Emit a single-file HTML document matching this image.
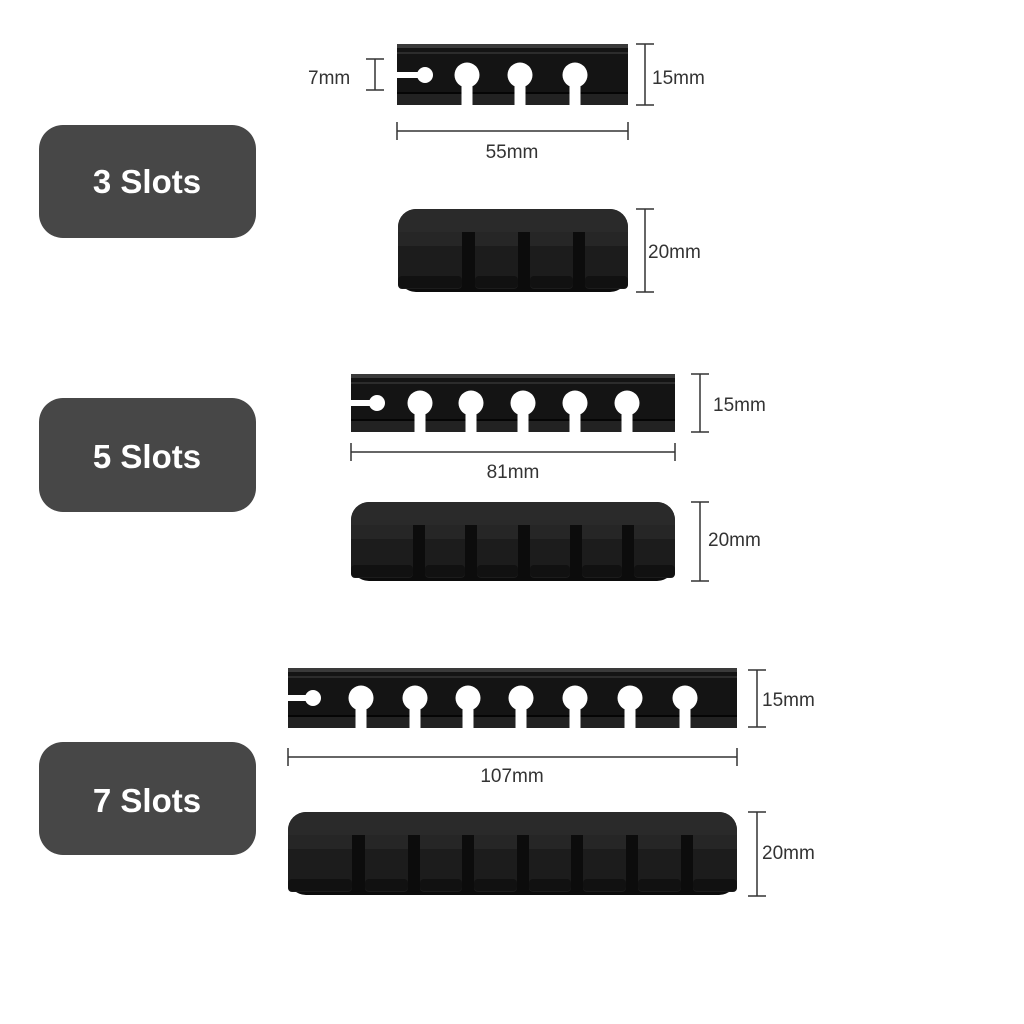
<!DOCTYPE html>
<html><head><meta charset="utf-8"><style>
html,body{margin:0;padding:0;background:#fff;width:1024px;height:1024px;overflow:hidden}
svg{display:block}
.t{font-family:"Liberation Sans",sans-serif;font-size:19px;fill:#333}
.l{font-family:"Liberation Sans",sans-serif;font-size:33px;font-weight:bold;fill:#fff}
.d{stroke:#333;stroke-width:1.5;fill:none}
.s1{fill:#1c1c1c}.s2{fill:#262626}.s3{fill:#111}
</style></head><body>
<svg width="1024" height="1024" viewBox="0 0 1024 1024" xmlns="http://www.w3.org/2000/svg">
<rect x="39" y="125" width="217" height="113" rx="24" fill="#474747"/>
<text class="l" x="147" y="193" text-anchor="middle">3 Slots</text>
<rect x="39" y="398" width="217" height="114" rx="24" fill="#474747"/>
<text class="l" x="147" y="468" text-anchor="middle">5 Slots</text>
<rect x="39" y="742" width="217" height="113" rx="24" fill="#474747"/>
<text class="l" x="147" y="812" text-anchor="middle">7 Slots</text>

<!-- 3 slots top -->
<rect x="397" y="44" width="231" height="61" fill="#141414"/>
<rect x="397" y="44" width="231" height="4" fill="#3a3a3a"/>
<rect x="397" y="52" width="231" height="2" fill="#2c2c2c"/>
<rect x="397" y="92" width="231" height="2" fill="#050505"/>
<rect x="397" y="94" width="231" height="11" fill="#222"/>
<circle cx="425" cy="75" r="8" fill="#fff"/><rect x="396" y="72" width="29" height="6" fill="#fff"/>
<circle cx="467" cy="75" r="12.5" fill="#fff"/><rect x="461.5" y="75" width="11" height="31" fill="#fff"/>
<circle cx="520" cy="75" r="12.5" fill="#fff"/><rect x="514.5" y="75" width="11" height="31" fill="#fff"/>
<circle cx="575" cy="75" r="12.5" fill="#fff"/><rect x="569.5" y="75" width="11" height="31" fill="#fff"/>
<path class="d" d="M375 59V90M366 59H384M366 90H384M645 44V105M636 44H654M636 105H654M397 131H628M397 122V140M628 122V140M645 209V292M636 209H654M636 292H654"/>
<!-- 3 slots front -->
<rect x="398" y="209" width="230" height="83" rx="18" fill="#0c0c0c"/>
<rect x="398" y="209" width="230" height="46" rx="18" fill="#2a2a2a"/>
<rect x="398" y="232" width="230" height="30" fill="#0c0c0c"/>
<rect class="s1" x="398" y="232" width="64" height="57" rx="4"/><rect class="s2" x="398" y="232" width="64" height="14"/><rect class="s3" x="398" y="276" width="64" height="12" rx="4"/>
<rect class="s1" x="475" y="232" width="43" height="57" rx="4"/><rect class="s2" x="475" y="232" width="43" height="14"/><rect class="s3" x="475" y="276" width="43" height="12" rx="4"/>
<rect class="s1" x="530" y="232" width="43" height="57" rx="4"/><rect class="s2" x="530" y="232" width="43" height="14"/><rect class="s3" x="530" y="276" width="43" height="12" rx="4"/>
<rect class="s1" x="585" y="232" width="43" height="57" rx="4"/><rect class="s2" x="585" y="232" width="43" height="14"/><rect class="s3" x="585" y="276" width="43" height="12" rx="4"/>

<!-- 5 slots top -->
<rect x="351" y="374" width="324" height="58" fill="#141414"/>
<rect x="351" y="374" width="324" height="4" fill="#3a3a3a"/>
<rect x="351" y="382" width="324" height="2" fill="#2c2c2c"/>
<rect x="351" y="419" width="324" height="2" fill="#050505"/>
<rect x="351" y="421" width="324" height="11" fill="#222"/>
<circle cx="377" cy="403" r="8" fill="#fff"/><rect x="350" y="400" width="27" height="6" fill="#fff"/>
<circle cx="420" cy="403" r="12.5" fill="#fff"/><rect x="414.5" y="403" width="11" height="30" fill="#fff"/>
<circle cx="471" cy="403" r="12.5" fill="#fff"/><rect x="465.5" y="403" width="11" height="30" fill="#fff"/>
<circle cx="523" cy="403" r="12.5" fill="#fff"/><rect x="517.5" y="403" width="11" height="30" fill="#fff"/>
<circle cx="575" cy="403" r="12.5" fill="#fff"/><rect x="569.5" y="403" width="11" height="30" fill="#fff"/>
<circle cx="627" cy="403" r="12.5" fill="#fff"/><rect x="621.5" y="403" width="11" height="30" fill="#fff"/>
<path class="d" d="M700 374V432M691 374H709M691 432H709M351 452H675M351 443V461M675 443V461M700 502V581M691 502H709M691 581H709"/>
<!-- 5 slots front -->
<rect x="351" y="502" width="324" height="79" rx="18" fill="#0c0c0c"/>
<rect x="351" y="502" width="324" height="46" rx="18" fill="#2a2a2a"/>
<rect x="351" y="525" width="324" height="30" fill="#0c0c0c"/>
<rect class="s1" x="351" y="525" width="62" height="53" rx="4"/><rect class="s2" x="351" y="525" width="62" height="14"/><rect class="s3" x="351" y="565" width="62" height="12" rx="4"/>
<rect class="s1" x="425" y="525" width="40" height="53" rx="4"/><rect class="s2" x="425" y="525" width="40" height="14"/><rect class="s3" x="425" y="565" width="40" height="12" rx="4"/>
<rect class="s1" x="477" y="525" width="41" height="53" rx="4"/><rect class="s2" x="477" y="525" width="41" height="14"/><rect class="s3" x="477" y="565" width="41" height="12" rx="4"/>
<rect class="s1" x="530" y="525" width="40" height="53" rx="4"/><rect class="s2" x="530" y="525" width="40" height="14"/><rect class="s3" x="530" y="565" width="40" height="12" rx="4"/>
<rect class="s1" x="582" y="525" width="40" height="53" rx="4"/><rect class="s2" x="582" y="525" width="40" height="14"/><rect class="s3" x="582" y="565" width="40" height="12" rx="4"/>
<rect class="s1" x="634" y="525" width="41" height="53" rx="4"/><rect class="s2" x="634" y="525" width="41" height="14"/><rect class="s3" x="634" y="565" width="41" height="12" rx="4"/>

<!-- 7 slots top -->
<rect x="288" y="668" width="449" height="60" fill="#141414"/>
<rect x="288" y="668" width="449" height="4" fill="#3a3a3a"/>
<rect x="288" y="676" width="449" height="2" fill="#2c2c2c"/>
<rect x="288" y="715" width="449" height="2" fill="#050505"/>
<rect x="288" y="717" width="449" height="11" fill="#222"/>
<circle cx="313" cy="698" r="8" fill="#fff"/><rect x="287" y="695" width="26" height="6" fill="#fff"/>
<circle cx="361" cy="698" r="12.5" fill="#fff"/><rect x="355.5" y="698" width="11" height="31" fill="#fff"/>
<circle cx="415" cy="698" r="12.5" fill="#fff"/><rect x="409.5" y="698" width="11" height="31" fill="#fff"/>
<circle cx="468" cy="698" r="12.5" fill="#fff"/><rect x="462.5" y="698" width="11" height="31" fill="#fff"/>
<circle cx="521" cy="698" r="12.5" fill="#fff"/><rect x="515.5" y="698" width="11" height="31" fill="#fff"/>
<circle cx="575" cy="698" r="12.5" fill="#fff"/><rect x="569.5" y="698" width="11" height="31" fill="#fff"/>
<circle cx="630" cy="698" r="12.5" fill="#fff"/><rect x="624.5" y="698" width="11" height="31" fill="#fff"/>
<circle cx="685" cy="698" r="12.5" fill="#fff"/><rect x="679.5" y="698" width="11" height="31" fill="#fff"/>
<path class="d" d="M757 670V727M748 670H766M748 727H766M288 757H737M288 748V766M737 748V766M757 812V896M748 812H766M748 896H766"/>
<!-- 7 slots front -->
<rect x="288" y="812" width="449" height="83" rx="18" fill="#0c0c0c"/>
<rect x="288" y="812" width="449" height="46" rx="18" fill="#2a2a2a"/>
<rect x="288" y="835" width="449" height="30" fill="#0c0c0c"/>
<rect class="s1" x="288" y="835" width="64" height="57" rx="4"/><rect class="s2" x="288" y="835" width="64" height="14"/><rect class="s3" x="288" y="879" width="64" height="12" rx="4"/>
<rect class="s1" x="365" y="835" width="43" height="57" rx="4"/><rect class="s2" x="365" y="835" width="43" height="14"/><rect class="s3" x="365" y="879" width="43" height="12" rx="4"/>
<rect class="s1" x="420" y="835" width="42" height="57" rx="4"/><rect class="s2" x="420" y="835" width="42" height="14"/><rect class="s3" x="420" y="879" width="42" height="12" rx="4"/>
<rect class="s1" x="474" y="835" width="43" height="57" rx="4"/><rect class="s2" x="474" y="835" width="43" height="14"/><rect class="s3" x="474" y="879" width="43" height="12" rx="4"/>
<rect class="s1" x="529" y="835" width="42" height="57" rx="4"/><rect class="s2" x="529" y="835" width="42" height="14"/><rect class="s3" x="529" y="879" width="42" height="12" rx="4"/>
<rect class="s1" x="583" y="835" width="43" height="57" rx="4"/><rect class="s2" x="583" y="835" width="43" height="14"/><rect class="s3" x="583" y="879" width="43" height="12" rx="4"/>
<rect class="s1" x="638" y="835" width="43" height="57" rx="4"/><rect class="s2" x="638" y="835" width="43" height="14"/><rect class="s3" x="638" y="879" width="43" height="12" rx="4"/>
<rect class="s1" x="693" y="835" width="44" height="57" rx="4"/><rect class="s2" x="693" y="835" width="44" height="14"/><rect class="s3" x="693" y="879" width="44" height="12" rx="4"/>

<text class="t" x="308" y="84">7mm</text>
<text class="t" x="652" y="84">15mm</text>
<text class="t" x="512" y="158" text-anchor="middle">55mm</text>
<text class="t" x="648" y="258">20mm</text>
<text class="t" x="713" y="411">15mm</text>
<text class="t" x="513" y="478" text-anchor="middle">81mm</text>
<text class="t" x="708" y="546">20mm</text>
<text class="t" x="762" y="706">15mm</text>
<text class="t" x="512" y="782" text-anchor="middle">107mm</text>
<text class="t" x="762" y="859">20mm</text>
</svg>
</body></html>
